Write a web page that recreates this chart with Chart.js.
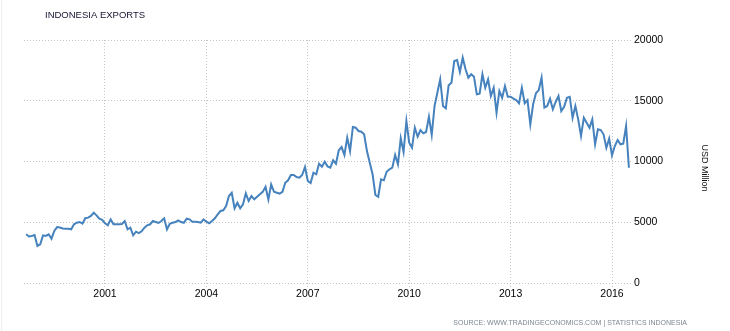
<!DOCTYPE html>
<html>
<head>
<meta charset="utf-8">
<script src="https://cdn.jsdelivr.net/npm/chart.js@4.4.0/dist/chart.umd.min.js"></script>
<style>
  html, body { margin: 0; padding: 0; background: #fff; }
</style>
</head>
<body>
<canvas id="chart" width="730" height="331"></canvas>
<script>
// monthly exports, USD million, starting Sep 1998
var startYear = 1998;
var startMonth = 9;
var exportsUsdMn = [
  4010, 3830, 3870, 3950,
  3050, 3190, 3920, 3870, 4010, 3650, 4280, 4600, 4560, 4480, 4470, 4470,
  4420, 4830, 4960, 5020, 4880, 5330, 5380, 5520, 5780, 5570, 5290, 5190,
  4910, 4750, 5240, 4830, 4830, 4840, 4855, 5100, 4420, 4550, 3925, 4220,
  4100, 4250, 4550, 4750, 4830, 5100, 5020, 4940, 5100, 5325, 4420, 4880,
  4960, 5020, 5160, 5020, 4960, 5290, 5240, 5045, 5045, 5020, 4960, 5240,
  5045, 4910, 5100, 5325, 5650, 5925, 5980, 6340, 7160, 7430, 6150, 6610,
  6150, 6480, 7380, 6750, 7160, 6890, 7100, 7300, 7500, 7925, 6870, 8120,
  7510, 7430, 7350, 7510, 8255, 8450, 8890, 8890, 8720, 8670, 8890, 9550,
  8395, 8230, 9080, 8945, 9820, 9570, 9980, 9600, 9490, 10100, 9820, 10920,
  11190, 10535, 11960, 10860, 12840, 12780, 12510, 12450, 12240, 10860, 9900, 8950,
  7250, 7100, 8530, 8450, 9160, 9360, 9490, 10535, 9770, 11910, 10780, 13330,
  11550, 11135, 12780, 12040, 12590, 12320, 12430, 13690, 12180, 14570, 15660, 16760,
  14570, 14380, 16270, 16490, 18270, 18350, 17370, 18540, 17590, 16900, 17180, 16980,
  15530, 15580, 17180, 16070, 16760, 15390, 16070, 14015, 15800, 15250, 16210, 15330,
  15330, 15170, 15060, 14790, 16070, 14790, 15060, 13060, 14710, 15610, 15880, 16900,
  14430, 14570, 15170, 14300, 14900, 15390, 14155, 14510, 15250, 15330, 13600, 14570,
  13470, 12100, 13600, 13190, 12780, 13470, 11415, 12650, 12590, 12240, 11135, 11880,
  10510, 11275, 11770, 11415, 11465, 12920, 9490
];
var yearTicks = [2001, 2004, 2007, 2010, 2013, 2016];
var valueTicks = [0, 5000, 10000, 15000, 20000];

var chartTitle = 'INDONESIA EXPORTS';
var unitLabel = 'USD Million';
var sourceText = 'SOURCE: WWW.TRADINGECONOMICS.COM | STATISTICS INDONESIA';

var fontFamily = '"Liberation Sans", Arial, sans-serif';

var points = exportsUsdMn.map(function (v, i) {
  return { x: startYear + (startMonth - 1 + i) / 12, y: v };
});

// texts around the plot
var textPlugin = {
  id: 'texts',
  afterDraw: function (chart) {
    var ctx = chart.ctx;
    ctx.save();
    ctx.strokeStyle = '#eeeeee';
    ctx.lineWidth = 1;
    ctx.beginPath();
    ctx.moveTo(1.5, 0);
    ctx.lineTo(1.5, 331);
    ctx.stroke();

    ctx.textBaseline = 'middle';
    ctx.fillStyle = '#141432';
    ctx.font = '9.5px ' + fontFamily;
    ctx.textAlign = 'left';
    ctx.fillText(chartTitle, 45, 15);

    ctx.fillStyle = '#7d8793';
    ctx.font = '7px ' + fontFamily;
    ctx.textAlign = 'right';
    ctx.fillText(sourceText, 687, 323);

    ctx.translate(704, 168);
    ctx.rotate(Math.PI / 2);
    ctx.fillStyle = '#111111';
    ctx.font = '9px ' + fontFamily;
    ctx.textAlign = 'center';
    ctx.fillText(unitLabel, 0, 0);
    ctx.restore();
  }
};

new Chart(document.getElementById('chart'), {
  type: 'line',
  data: {
    datasets: [{
      data: points,
      borderColor: '#4682bd',
      borderWidth: 2,
      pointRadius: 0,
      tension: 0,
      fill: false
    }]
  },
  options: {
    responsive: false,
    animation: false,
    layout: { padding: { left: 24, top: 40, right: 0, bottom: 0 } },
    plugins: { legend: { display: false }, tooltip: { enabled: false } },
    scales: {
      x: {
        type: 'linear',
        min: 1998.6036,
        max: 2016.5917,
        afterBuildTicks: function (scale) {
          scale.ticks = yearTicks.map(function (v) { return { value: v }; });
        },
        afterFit: function (scale) { scale.height = 48; },
        grid: { color: '#c4c4c4', lineWidth: 1, drawTicks: true, tickLength: 4, tickBorderDash: [1, 2] },
        border: { display: false, dash: [1, 2] },
        ticks: {
          color: '#000000',
          font: { family: fontFamily, size: 10.5 },
          padding: 1,
          maxRotation: 0,
          autoSkip: false,
          callback: function (v) { return String(v); }
        }
      },
      y: {
        position: 'right',
        min: 0,
        max: 20000,
        afterBuildTicks: function (scale) {
          scale.ticks = valueTicks.map(function (v) { return { value: v }; });
        },
        afterFit: function (scale) { scale.width = 98; },
        grid: { color: '#c4c4c4', lineWidth: 1, drawTicks: false },
        border: { display: false, dash: [1, 2] },
        ticks: {
          color: '#000000',
          font: { family: fontFamily, size: 10.5 },
          padding: 2,
          callback: function (v) { return String(v); }
        }
      }
    }
  },
  plugins: [textPlugin]
});
</script>
</body>
</html>
